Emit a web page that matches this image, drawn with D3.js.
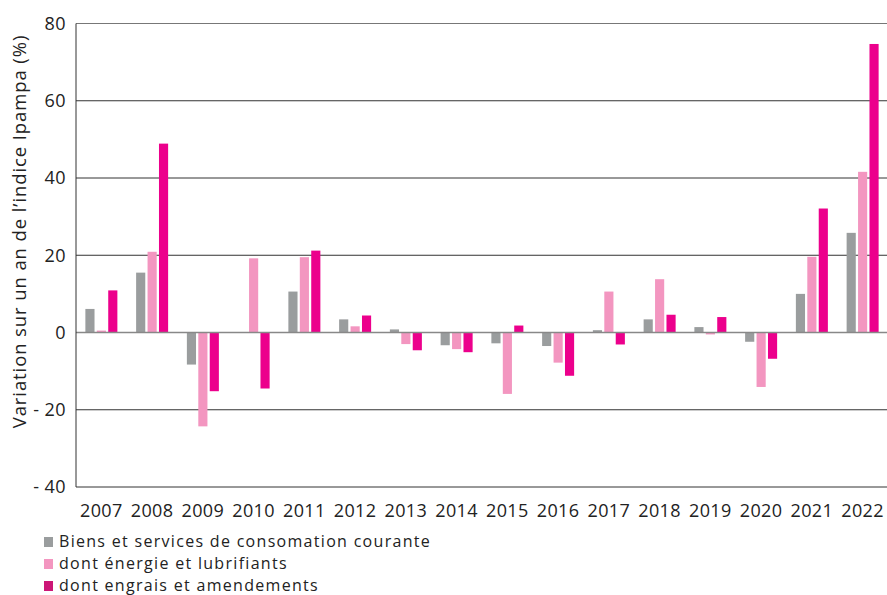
<!DOCTYPE html>
<html>
<head>
<meta charset="utf-8">
<script src="https://cdn.jsdelivr.net/npm/d3@7"></script>
<style>
  body { margin: 0; background: #fff; }
  svg { font-family: "Open Sans", "Noto Sans", sans-serif; }
</style>
</head>
<body>
<svg width="887" height="595"></svg>
<script>
const years = ["2007","2008","2009","2010","2011","2012","2013","2014","2015","2016","2017","2018","2019","2020","2021","2022"];
const biens   = [6.1, 15.5, -8.3, 0.1, 10.6, 3.4, 0.8, -3.3, -2.8, -3.5, 0.6, 3.4, 1.4, -2.4, 10.0, 25.8];
const energie = [0.5, 20.9, -24.3, 19.2, 19.5, 1.6, -3.0, -4.3, -15.9, -7.8, 10.6, 13.8, -0.5, -14.1, 19.6, 41.6];
const engrais = [10.9, 48.9, -15.2, -14.5, 21.2, 4.4, -4.6, -5.1, 1.8, -11.2, -3.1, 4.6, 4.0, -6.8, 32.1, 74.7];
const seriesNames = ["Biens et services de consomation courante", "dont énergie et lubrifiants", "dont engrais et amendements"];
const yTicks = [80, 60, 40, 20, 0, -20, -40];

const colors = ["#9a9d9e", "#f396c0", "#ec008c"];
const legendColors = ["#9a9d9e", "#f396c0", "#cc1677"];

const svg = d3.select("svg");
const plot = { left: 76, right: 888, top: 23.5, bottom: 487 };

const x = d3.scaleBand().domain(years).range([plot.left, plot.right]);
const x1 = d3.scaleBand().domain([0, 1, 2]).range([-16, 16]).paddingInner(0.2);
const y = d3.scaleLinear().domain([-40, 80]).range([plot.bottom, plot.top]);

// grid lines
svg.append("g")
    .selectAll("line")
    .data(yTicks)
    .join("line")
    .attr("x1", plot.left).attr("x2", plot.right)
    .attr("y1", d => y(d)).attr("y2", d => y(d))
    .attr("stroke", d => d === 80 ? "#777" : "#333")
    .attr("stroke-width", 1);

// y tick labels
svg.append("g")
    .selectAll("text")
    .data(yTicks)
    .join("text")
    .attr("x", 66)
    .attr("y", d => y(d))
    .attr("dy", "0.35em")
    .attr("text-anchor", "end")
    .attr("font-size", 18)
    .attr("letter-spacing", 0.4)
    .attr("fill", "#222")
    .text(d => d < 0 ? "- " + Math.abs(d) : d);

// bars
const allSeries = [biens, energie, engrais];
const groups = svg.append("g")
    .selectAll("g")
    .data(years)
    .join("g")
    .attr("transform", d => `translate(${x(d) + x.bandwidth() / 2},0)`);

groups.selectAll("rect")
    .data((d, i) => allSeries.map((s, k) => ({ k, v: s[i] })))
    .join("rect")
    .attr("x", d => x1(d.k))
    .attr("width", x1.bandwidth())
    .attr("y", d => y(Math.max(0, d.v)))
    .attr("height", d => Math.abs(y(d.v) - y(0)))
    .attr("fill", d => colors[d.k]);

// zero line on top
svg.append("line")
    .attr("x1", plot.left).attr("x2", plot.right)
    .attr("y1", y(0)).attr("y2", y(0))
    .attr("stroke", "#888")
    .attr("stroke-width", 1.5);

// left axis line
svg.append("line")
    .attr("x1", plot.left).attr("x2", plot.left)
    .attr("y1", plot.top).attr("y2", plot.bottom)
    .attr("stroke", "#333");

// x labels
svg.append("g")
    .selectAll("text")
    .data(years)
    .join("text")
    .attr("x", d => x(d) + x.bandwidth() / 2)
    .attr("y", 517)
    .attr("text-anchor", "middle")
    .attr("font-size", 18)
    .attr("letter-spacing", 0.4)
    .attr("fill", "#222")
    .text(d => d);

// y title
svg.append("text")
    .attr("transform", `translate(26,${(18 + 445) / 2}) rotate(-90)`)
    .attr("text-anchor", "middle")
    .attr("font-size", 18.5)
    .attr("letter-spacing", 0.9)
    .attr("fill", "#222")
    .text("Variation sur un an de l\u2019indice Ipampa (%)");

// legend
const legend = svg.append("g")
    .selectAll("g")
    .data(seriesNames)
    .join("g")
    .attr("transform", (d, i) => `translate(44,${547 + i * 22})`);

legend.append("rect")
    .attr("x", 0).attr("y", -10)
    .attr("width", 9).attr("height", 10)
    .attr("fill", (d, i) => legendColors[i]);

legend.append("text")
    .attr("x", 15)
    .attr("y", 0)
    .attr("font-size", 16)
    .attr("letter-spacing", 1.3)
    .attr("fill", "#222")
    .text(d => d);
</script>
</body>
</html>
